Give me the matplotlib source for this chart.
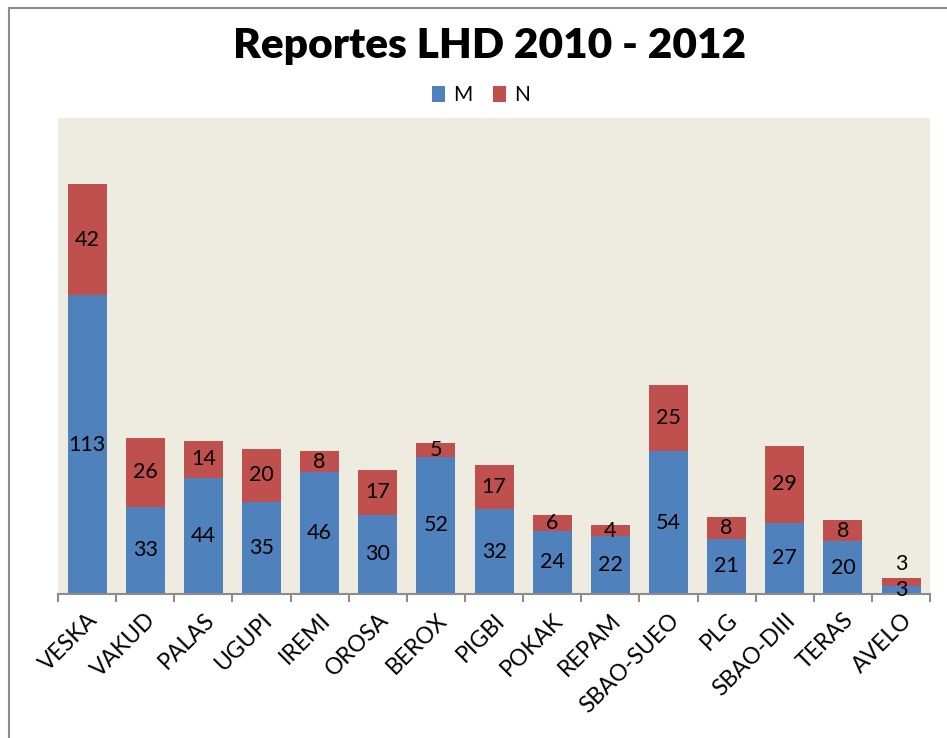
import numpy as np
import matplotlib.pyplot as plt
from matplotlib.patches import Rectangle

categories = ['VESKA', 'VAKUD', 'PALAS', 'UGUPI', 'IREMI', 'OROSA', 'BEROX', 'PIGBI',
              'POKAK', 'REPAM', 'SBAO-SUEO', 'PLG', 'SBAO-DIII', 'TERAS', 'AVELO']
m_vals = [113, 33, 44, 35, 46, 30, 52, 32, 24, 22, 54, 21, 27, 20, 3]
n_vals = [42, 26, 14, 20, 8, 17, 5, 17, 6, 4, 25, 8, 29, 8, 3]

blue = '#4F81BD'
red = '#C0504D'
lab_font = ['Lato', 'DejaVu Sans']

fig = plt.figure(figsize=(9.47, 7.38), dpi=100)
ax = fig.add_axes([0.0612, 0.195, 0.921, 0.645])
ax.set_facecolor('#EEEBE0')

x = np.arange(len(categories))
m = np.array(m_vals)
n = np.array(n_vals)
ax.bar(x, m, width=0.67, color=blue, label='M')
ax.bar(x, n, width=0.67, bottom=m, color=red, label='N')

# etiquetas de datos
for i in range(len(x)):
    ax.text(x[i], m[i] / 2, str(m[i]), ha='center', va='center', fontsize=15.5, family=lab_font)
    if n[i] <= 3:
        ax.text(x[i], m[i] + n[i] + 1.5, str(n[i]), ha='center', va='bottom', fontsize=15.5, family=lab_font)
    else:
        ax.text(x[i], m[i] + n[i] / 2, str(n[i]), ha='center', va='center', fontsize=15.5, family=lab_font)

ax.set_xlim(-0.5, len(x) - 0.5)
ax.set_ylim(0, 180)
ax.set_yticks([])
for s in ['top', 'right', 'left']:
    ax.spines[s].set_visible(False)
ax.spines['bottom'].set_color('#8C8C8C')
ax.spines['bottom'].set_linewidth(1.5)

ax.set_xticks(x)
ax.set_xticklabels(categories, rotation=45, ha='right', rotation_mode='anchor',
                   fontsize=16.5, family=lab_font)
ax.tick_params(axis='x', which='major', length=0, pad=11)
ax.set_xticks(np.arange(-0.5, len(x), 1), minor=True)
ax.tick_params(axis='x', which='minor', length=6, width=1.5, color='#8C8C8C')

fig.text(0.517, 0.937, 'Reportes LHD 2010 - 2012', ha='center', va='center',
         fontsize=30.5, fontweight='heavy', family=lab_font)
fig.legend(loc='center', bbox_to_anchor=(0.508, 0.871), ncol=2, frameon=False,
           handlelength=0.6, handleheight=0.8, columnspacing=1.0,
           handletextpad=0.4, prop={'family': lab_font, 'size': 15})

# marco del gráfico
fig.patches.append(Rectangle((0.0095, -0.1), 1.2, 1.1 - 8 / 738, transform=fig.transFigure,
                             fill=False, edgecolor='#8C8C8C', linewidth=1.5))

fig.savefig('out.png', dpi=100)
